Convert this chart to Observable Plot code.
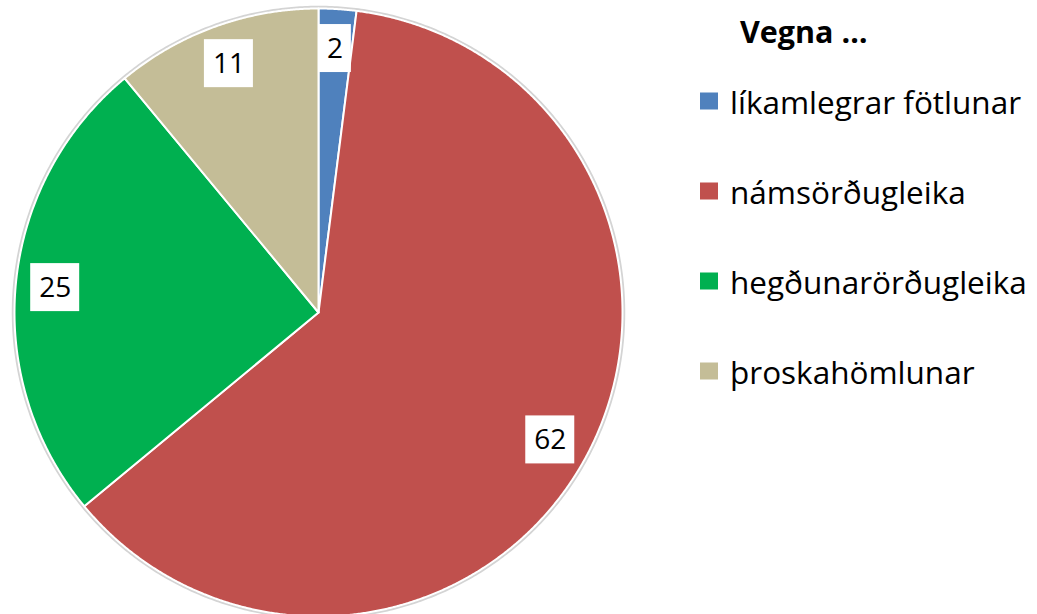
<!DOCTYPE html>
<html>
<head>
<meta charset="utf-8">
<script src="https://cdn.jsdelivr.net/npm/d3@7"></script>
<script src="https://cdn.jsdelivr.net/npm/@observablehq/plot@0.6"></script>
<style>
  html, body { margin: 0; padding: 0; background: #fff; }
  #wrap { position: relative; width: 1037px; height: 614px; overflow: hidden; font-family: "Open Sans", sans-serif; }
  #legend { position: absolute; left: 0; top: 0; width: 1037px; height: 614px; pointer-events: none; }
  .ltitle { position: absolute; left: 740px; top: 31px; transform: translateY(-50%); font-weight: bold; font-size: 30.5px; color: #000; white-space: nowrap; }
  .litem { position: absolute; left: 700px; transform: translateY(-50%); display: flex; align-items: center; font-size: 31.5px; color: #000; white-space: nowrap; }
  .lsw { width: 18px; height: 17px; margin-right: 12px; }
</style>
</head>
<body>
<div id="wrap"><div id="chart"></div><div id="legend"></div></div>
<script>
const categories = ["líkamlegrar fötlunar", "námsörðugleika", "hegðunarörðugleika", "þroskahömlunar"];
const values = [2, 62, 25, 11];
const labels = ["2", "62", "25", "11"];
const legendTitle = "Vegna …";
const colors = ["#4F81BD", "#C0504D", "#00B050", "#C4BD97"];

// layout (pixels)
const W = 1037, H = 614, CX = 318, CY = 312, R = 304;
const labelRadius = 0.87;

const arcs = d3.pie().sort(null).value(d => d)(values);

// slice polygons in unit-circle coordinates (y up, angles clockwise from 12 o'clock)
const slices = [];
arcs.forEach((a, i) => {
  const cat = categories[i];
  slices.push({cat, x: 0, y: 0});
  const n = Math.max(2, Math.ceil((a.endAngle - a.startAngle) / (Math.PI / 720)));
  for (let k = 0; k <= n; k++) {
    const t = a.startAngle + (a.endAngle - a.startAngle) * k / n;
    slices.push({cat, x: Math.sin(t), y: Math.cos(t)});
  }
  slices.push({cat, x: 0, y: 0});
});

const ring = d3.range(0, 721).map(k => {
  const t = k / 720 * 2 * Math.PI;
  return {x: Math.sin(t) * (R + 1.5) / R, y: Math.cos(t) * (R + 1.5) / R};
});

const lab = arcs.map((a, i) => {
  const t = (a.startAngle + a.endAngle) / 2;
  const txt = labels[i];
  const wpx = txt.length * 16.5 + 16, hpx = 48;
  const x = Math.sin(t) * labelRadius, y = Math.cos(t) * labelRadius;
  return {text: txt, x, y, x1: x - wpx / 2 / R, x2: x + wpx / 2 / R, y1: y - hpx / 2 / R, y2: y + hpx / 2 / R};
});

const chart = Plot.plot({
  width: W,
  height: H,
  margin: 0,
  style: {fontFamily: "'Open Sans', sans-serif", background: "white"},
  x: {domain: [-CX / R, (W - CX) / R], range: [0, W], axis: null},
  y: {domain: [(CY - H) / R, CY / R], range: [H, 0], axis: null},
  color: {domain: categories, range: colors},
  marks: [
    Plot.line(ring, {x: "x", y: "y", stroke: "#d4d4d4", strokeWidth: 2.5}),
    Plot.line(slices, {x: "x", y: "y", z: "cat", fill: "cat", stroke: "white", strokeWidth: 2, strokeLinejoin: "round"}),
    Plot.rect(lab, {x1: "x1", x2: "x2", y1: "y1", y2: "y2", fill: "white"}),
    Plot.text(lab, {x: "x", y: "y", text: "text", fontSize: 28, fill: "black", dy: 0})
  ]
});
document.getElementById("chart").appendChild(chart);

const legend = document.getElementById("legend");
const t = document.createElement("div");
t.className = "ltitle";
t.textContent = legendTitle;
legend.appendChild(t);
const itemY = [101, 191, 281, 371];
categories.forEach((c, i) => {
  const d = document.createElement("div");
  d.className = "litem";
  d.style.top = itemY[i] + "px";
  const sw = document.createElement("span");
  sw.className = "lsw";
  sw.style.background = colors[i];
  d.appendChild(sw);
  const s = document.createElement("span");
  s.textContent = c;
  d.appendChild(s);
  legend.appendChild(d);
});
</script>
</body>
</html>
